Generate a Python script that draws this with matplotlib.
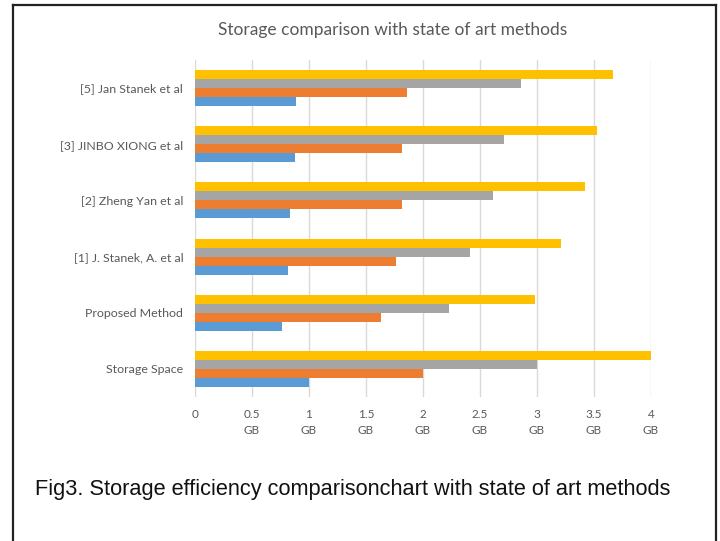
import numpy as np
import matplotlib.pyplot as plt
from matplotlib.lines import Line2D

plt.rcParams['font.family'] = ['Lato', 'DejaVu Sans']

# methods listed bottom to top as they appear on the chart
methods = ['Storage Space', 'Proposed Method', '[1] J. Stanek, A. et al',
           '[2] Zheng Yan et al', '[3] JINBO XIONG et al', '[5] Jan Stanek et al']
series_blue = [1.0, 0.76, 0.815, 0.83, 0.875, 0.89]
series_orange = [2.0, 1.63, 1.76, 1.82, 1.82, 1.86]
series_gray = [3.0, 2.23, 2.41, 2.61, 2.71, 2.86]
series_yellow = [4.0, 2.98, 3.21, 3.42, 3.53, 3.67]
x_ticks = [0, 0.5, 1, 1.5, 2, 2.5, 3, 3.5, 4]
x_labels = ['0', '0.5\nGB', '1\nGB', '1.5\nGB', '2\nGB', '2.5\nGB', '3\nGB', '3.5\nGB', '4\nGB']

fig = plt.figure(figsize=(7.2, 5.41), dpi=100)
ax = fig.add_axes([0.2708, 0.2662, 0.6333, 0.6229])

y = np.arange(len(methods))
h = 0.16
ax.barh(y - 1.5 * h, series_blue, height=h, color='#5B9BD5', zorder=3)
ax.barh(y - 0.5 * h, series_orange, height=h, color='#ED7D31', zorder=3)
ax.barh(y + 0.5 * h, series_gray, height=h, color='#A5A5A5', zorder=3)
ax.barh(y + 1.5 * h, series_yellow, height=h, color='#FFC000', zorder=3)

ax.set_xlim(0, 4)
ax.set_ylim(-0.5, len(methods) - 0.5)
ax.set_yticks(y)
ax.set_yticklabels(methods, fontsize=8.9, color='#595959')
ax.set_xticks(x_ticks)
ax.set_xticklabels(x_labels, fontsize=8.5, color='#595959', linespacing=1.5)
ax.tick_params(length=0)
ax.tick_params(axis='y', pad=8.5)
ax.tick_params(axis='x', pad=9)
for xt in x_ticks:
    ax.axvline(xt, color='#D9D9D9', lw=1, zorder=1)
for s in ax.spines.values():
    s.set_visible(False)

fig.text(0.545, 0.944, 'Storage comparison with state of art methods',
         ha='center', va='center', fontsize=12.5, color='#595959')

fig.text(35 / 720, 1 - 489 / 541,
         'Fig3. Storage efficiency comparisonchart with state of art methods',
         ha='left', va='center', fontsize=15.7, color='#111111',
         family='Liberation Sans')

# frame around the figure (open at the bottom)
W, H = 720, 541
frame = [((13, 13), (5, 541)), ((13, 716), (5, 5)), ((716, 716), (5, 541))]
for xs, ys in frame:
    fig.add_artist(Line2D([v / W for v in xs], [1 - v / H for v in ys],
                          color='#222222', lw=1.6, transform=fig.transFigure))

fig.savefig('out.png', dpi=100)
